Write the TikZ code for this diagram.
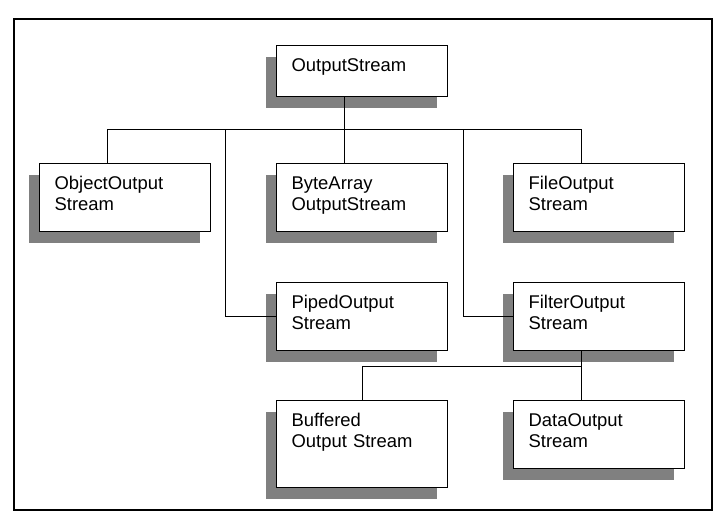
\documentclass[tikz,border=0pt]{standalone}
\usepackage{fontspec}
\setmainfont{Liberation Sans}
\usetikzlibrary{positioning}
\usetikzlibrary{calc}
\usetikzlibrary{shadows}
\definecolor{shade}{gray}{0.5}

\begin{document}
\begin{tikzpicture}
    [x=1bp, y=1bp,
    cls/.style={draw, line width=1.2bp, fill=white, anchor=north west, align=left,
      text width=141bp, inner xsep=15bp, inner ysep=0pt, text height=26bp, text depth=42bp,
      general shadow={fill=shade, draw=none, shadow xshift=-11bp, shadow yshift=-11bp}},
    link/.style={line width=1bp},
    font=\fontsize{18.5}{21}\selectfont]
    \useasboundingbox (0,0) rectangle (725,525);
    \draw[line width=1.3bp] (14,15) rectangle (712,506);

    \node[cls, text depth=25bp] (out) at (276,480) {OutputStream};
    \node[cls] (obj)  at (39,362)  {ObjectOutput\\Stream};
    \node[cls] (byte) at (276,362) {ByteArray\\OutputStream};
    \node[cls] (file) at (513,362) {FileOutput\\Stream};
    \node[cls] (piped)  at (276,243) {PipedOutput\\Stream};
    \node[cls] (filter) at (513,243) {FilterOutput\\Stream};
    \node[cls, text depth=61bp] (buf) at (276,125) {Buffered\\Output Stream};
    \node[cls] (data) at (513,125) {DataOutput\\Stream};

    % the two busses
    \coordinate (bus) at (0,395);
    \coordinate (bus2) at (0,158);
    \coordinate (pipeUp) at (225,395);
    \coordinate (filterUp) at (463,395);
    \coordinate (outS) at ($(out.south west)!.4!(out.south east)$);
    \coordinate (objN) at ($(obj.north west)!.4!(obj.north east)$);
    \coordinate (byteN) at ($(byte.north west)!.4!(byte.north east)$);
    \coordinate (fileN) at ($(file.north west)!.4!(file.north east)$);
    \coordinate (filterS) at ($(filter.south west)!.4!(filter.south east)$);
    \coordinate (dataN) at ($(data.north west)!.4!(data.north east)$);

    \draw[link] (outS) -- (outS |- bus);
    \draw[link] (objN) -- (objN |- bus) -- (fileN |- bus) -- (fileN);
    \draw[link] (byteN) -- (byteN |- bus);
    \draw[link] (piped.west) -| (pipeUp);
    \draw[link] (filter.west) -| (filterUp);
    \draw[link] (filterS) -- (dataN);
    \draw[link] (buf.north) -- (buf.north |- bus2) -- (dataN |- bus2);
\end{tikzpicture}
\end{document}
